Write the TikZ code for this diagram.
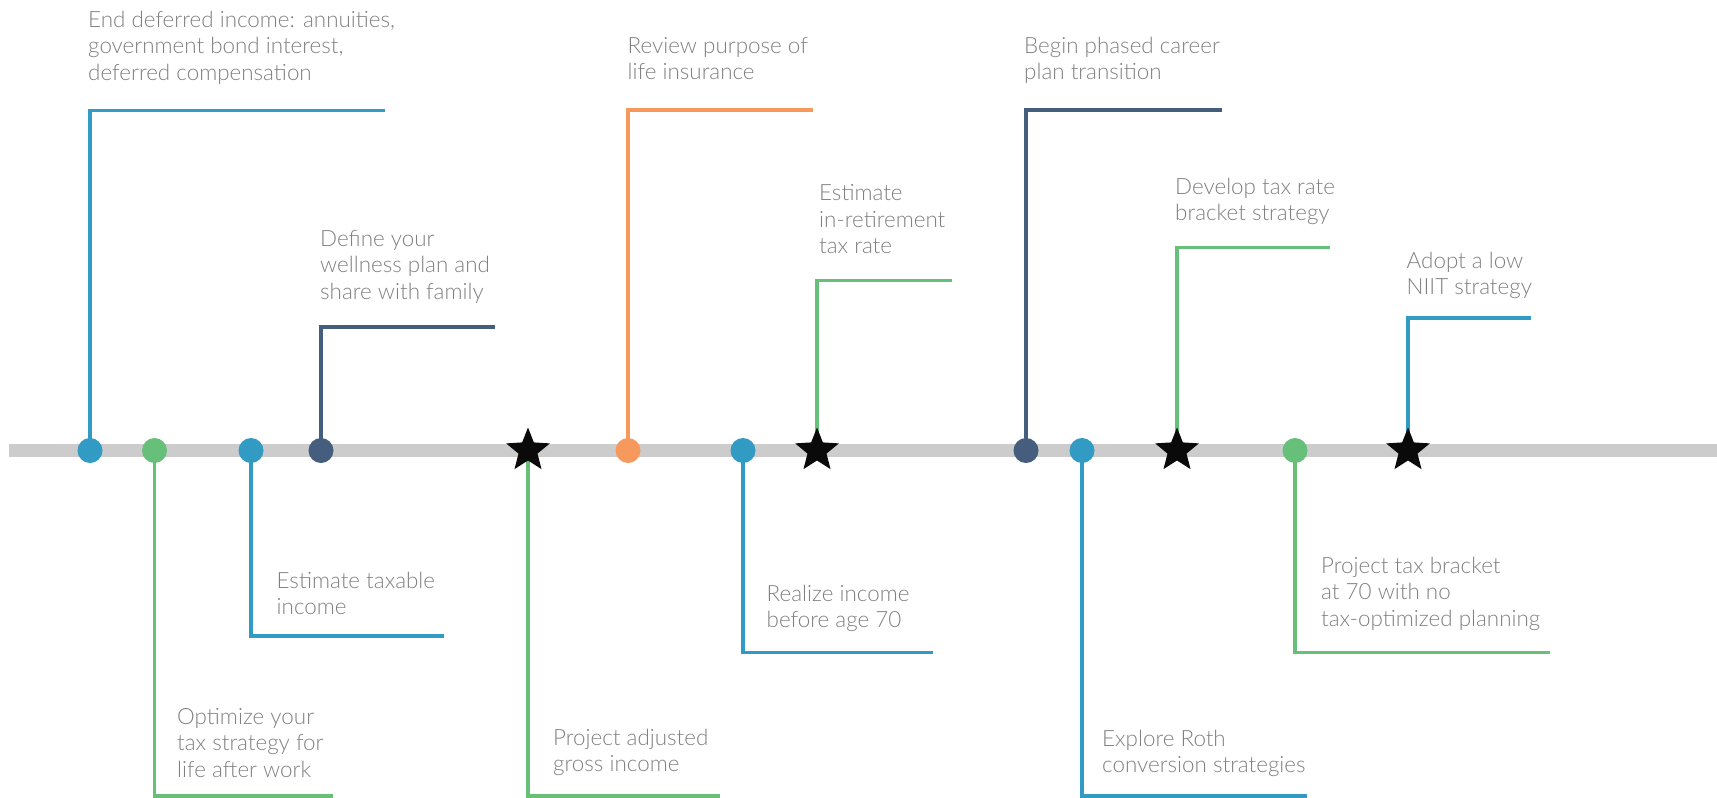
\documentclass[tikz,border=0pt]{standalone}
\usepackage{fontspec}
\IfFontExistsTF{Lato Light}{\setmainfont{Lato Light}}{\setmainfont{Lato}}
\usetikzlibrary{shapes.geometric}
\definecolor{cblue}{RGB}{50,155,196}
\definecolor{cgreen}{RGB}{102,192,122}
\definecolor{cdark}{RGB}{69,94,125}
\definecolor{corange}{RGB}{247,153,92}
\definecolor{cgray}{RGB}{204,204,204}
\definecolor{ctext}{RGB}{128,128,128}
\definecolor{cstar}{RGB}{10,10,10}
\tikzset{
  dot/.style={circle, fill=#1, minimum size=25pt, inner sep=0pt},
  starmark/.style={star, star points=5, star point ratio=2.3, minimum size=46pt, inner sep=0pt, fill=cstar},
  conn/.style={draw=#1, line width=3.8pt, line join=miter},
  lbl/.style={anchor=base west, align=left, inner sep=0pt, text=ctext, font=\fontsize{22.4}{26.5}\selectfont},
  timeline/.style={draw=cgray, line width=13pt}
}
\begin{document}
\begin{tikzpicture}[x=1pt,y=-1pt]
\useasboundingbox (0,0) rectangle (1717,798);
% timeline
\coordinate (tl0) at (9,450.5);
\coordinate (tl1) at (1717,450.5);
\draw[timeline] (tl0) -- (tl1);
% markers (positions)
\coordinate (pA) at (90,450.5);
\coordinate (pB) at (154.5,450.5);
\coordinate (pC) at (251,450.5);
\coordinate (pD) at (321,450.5);
\coordinate (pE) at (528,450.5);
\coordinate (pF) at (628,450.5);
\coordinate (pG) at (743,450.5);
\coordinate (pH) at (817,450.5);
\coordinate (pI) at (1026,450.5);
\coordinate (pJ) at (1082,450.5);
\coordinate (pK) at (1177,450.5);
\coordinate (pL) at (1295,450.5);
\coordinate (pM) at (1408,450.5);
% connector ends
\coordinate (eA) at (385,110.5);
\coordinate (eB) at (333,796);
\coordinate (eC) at (444,636);
\coordinate (eD) at (495,327);
\coordinate (eE) at (720,796);
\coordinate (eF) at (812.5,110);
\coordinate (eG) at (933,652.5);
\coordinate (eH) at (952,280.5);
\coordinate (eI) at (1222,110);
\coordinate (eJ) at (1307,796);
\coordinate (eK) at (1330,247.5);
\coordinate (eL) at (1550,652.5);
\coordinate (eM) at (1531,318);
% connectors
\draw[conn=cblue]   (pA) |- (eA);
\draw[conn=cgreen]  (pB) |- (eB);
\draw[conn=cblue]   (pC) |- (eC);
\draw[conn=cdark]   (pD) |- (eD);
\draw[conn=cgreen]  (pE) |- (eE);
\draw[conn=corange] (pF) |- (eF);
\draw[conn=cblue]   (pG) |- (eG);
\draw[conn=cgreen]  (pH) |- (eH);
\draw[conn=cdark]   (pI) |- (eI);
\draw[conn=cblue]   (pJ) |- (eJ);
\draw[conn=cgreen]  (pK) |- (eK);
\draw[conn=cgreen]  (pL) |- (eL);
\draw[conn=cblue]   (pM) |- (eM);
% markers
\node[dot=cblue]   (mA) at (pA) {};
\node[dot=cgreen]  (mB) at (pB) {};
\node[dot=cblue]   (mC) at (pC) {};
\node[dot=cdark]   (mD) at (pD) {};
\node[starmark]    (mE) at (pE) {};
\node[dot=corange] (mF) at (pF) {};
\node[dot=cblue]   (mG) at (pG) {};
\node[starmark]    (mH) at (pH) {};
\node[dot=cdark]   (mI) at (pI) {};
\node[dot=cblue]   (mJ) at (pJ) {};
\node[starmark]    (mK) at (pK) {};
\node[dot=cgreen]  (mL) at (pL) {};
\node[starmark]    (mM) at (pM) {};
% labels (anchored at the baseline of the last line)
\node[lbl] (tA) at (88,80) {End deferred income: annuities,\\government bond interest,\\deferred compensation};
\node[lbl] (tB) at (177,777) {Optimize your\\tax strategy for\\life after work};
\node[lbl] (tC) at (276.5,614.5) {Estimate taxable\\income};
\node[lbl] (tD) at (320,299) {Define your\\wellness plan and\\share with family};
\node[lbl] (tE) at (553,771.5) {Project adjusted\\gross income};
\node[lbl] (tF) at (627.5,79.5) {Review purpose of\\life insurance};
\node[lbl] (tG) at (766.5,627.5) {Realize income\\before age 70};
\node[lbl] (tH) at (819,253.7) {Estimate\\in-retirement\\tax rate};
\node[lbl] (tI) at (1024,79.5) {Begin phased career\\plan transition};
\node[lbl] (tJ) at (1102,772.5) {Explore Roth\\conversion strategies};
\node[lbl] (tK) at (1175,220.5) {Develop tax rate\\bracket strategy};
\node[lbl] (tL) at (1321,626) {Project tax bracket\\at 70 with no\\tax-optimized planning};
\node[lbl] (tM) at (1406.5,294.5) {Adopt a low\\NIIT strategy};
\end{tikzpicture}
\end{document}
